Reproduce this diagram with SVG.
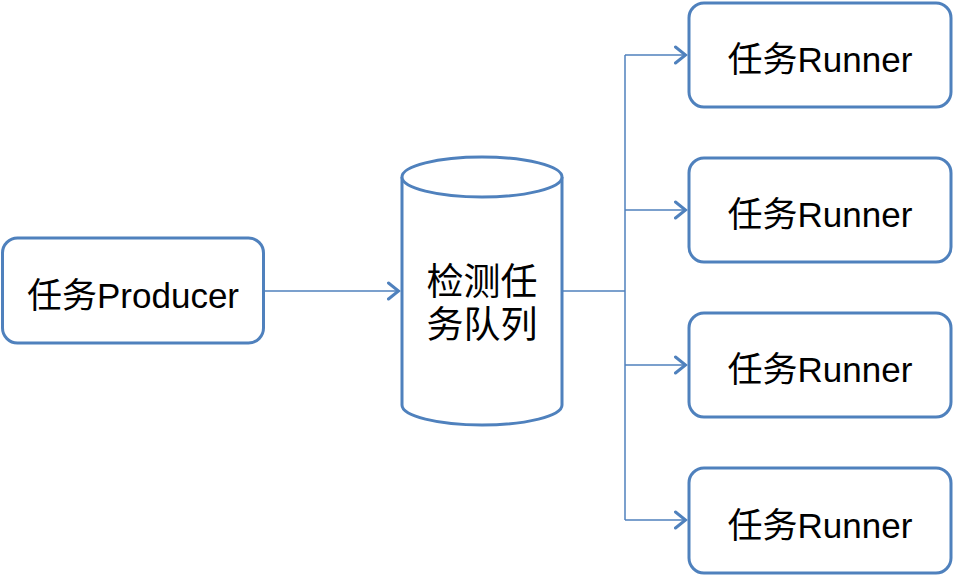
<svg xmlns="http://www.w3.org/2000/svg" width="954" height="577" viewBox="0 0 954 577">
<defs>
<marker id="arr" viewBox="0 0 14 20" refX="12.5" refY="10" markerWidth="14" markerHeight="20" markerUnits="userSpaceOnUse" orient="auto">
<path d="M2,2 L12,10 L2,18" fill="none" stroke="#4F81BD" stroke-width="3" stroke-linecap="round" stroke-linejoin="miter"/>
</marker>
</defs>
<style>
.box{fill:#fff;stroke:#4F81BD;stroke-width:3}
.lbl{font-family:"Liberation Sans","Noto Sans CJK SC",sans-serif;font-size:35px;fill:#000;text-anchor:middle}
.q{font-size:37px}
.ln{fill:none;stroke:#4F81BD;stroke-width:1.5}
</style>
<rect width="954" height="577" fill="#fff"/>
<g id="producer">
<rect class="box" x="2.5" y="238" width="261" height="105" rx="15"/>
<text class="lbl" x="133" y="308">任务Producer</text>
</g>
<g id="queue">
<path class="box" d="M402,177 L402,405 A80,20 0 0 0 562,405 L562,177 A80,20 0 0 0 402,177 Z"/>
<path class="box" d="M402,177 A80,20 0 0 0 562,177" fill="none"/>
<text class="lbl q" x="482" y="295">检测任</text>
<text class="lbl q" x="482" y="338">务队列</text>
</g>
<g id="runner1">
<rect class="box" x="689" y="3" width="262" height="104" rx="15"/>
<text class="lbl" x="820" y="72">任务Runner</text>
</g>
<g id="runner2">
<rect class="box" x="689" y="158" width="262" height="104" rx="15"/>
<text class="lbl" x="820" y="227">任务Runner</text>
</g>
<g id="runner3">
<rect class="box" x="689" y="313" width="262" height="104" rx="15"/>
<text class="lbl" x="820" y="382">任务Runner</text>
</g>
<g id="runner4">
<rect class="box" x="689" y="468" width="262" height="105" rx="15"/>
<text class="lbl" x="820" y="538">任务Runner</text>
</g>
<g id="connectors">
<path class="ln" d="M265,291 L399,291" marker-end="url(#arr)"/>
<path class="ln" d="M563,291 L625,291"/>
<path class="ln" d="M625,55 L625,520"/>
<path class="ln" d="M625,55 L686,55" marker-end="url(#arr)"/>
<path class="ln" d="M625,210 L686,210" marker-end="url(#arr)"/>
<path class="ln" d="M625,365 L686,365" marker-end="url(#arr)"/>
<path class="ln" d="M625,520 L686,520" marker-end="url(#arr)"/>
</g>
</svg>
